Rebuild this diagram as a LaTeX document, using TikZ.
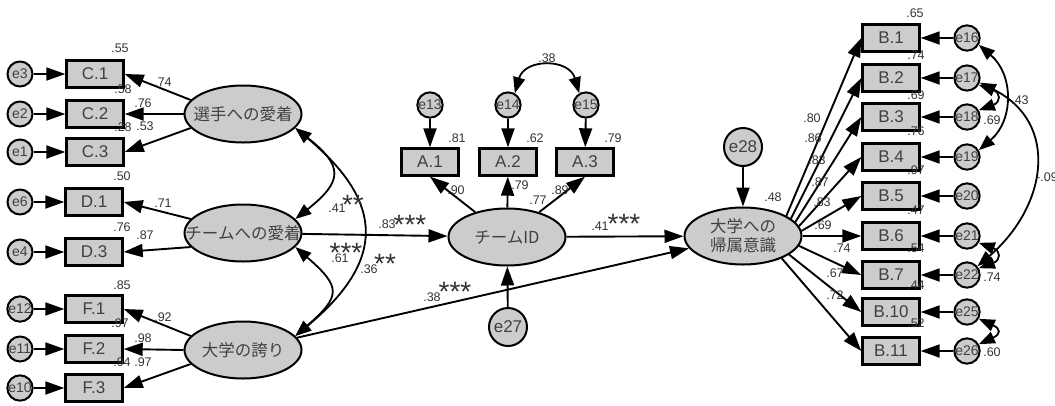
\documentclass[tikz,border=0pt]{standalone}
\usepackage{fontspec}
\setmainfont{Liberation Sans}
\newfontfamily\jpfont{Noto Sans CJK JP}
\usetikzlibrary{shapes.geometric,arrows.meta}
\tikzset{
  obs/.style={draw, line width=2.4pt, fill=gray!40, minimum width=57pt, minimum height=27pt, inner sep=0pt, text=black!75, font=\fontsize{17}{17}\selectfont},
  err/.style={circle, draw, line width=2pt, fill=gray!40, minimum size=25pt, inner sep=0pt, text=black!75, font=\fontsize{14}{14}\selectfont},
  bigerr/.style={err, minimum size=38pt, font=\fontsize{17}{17}\selectfont},
  lat/.style={ellipse, draw, line width=2pt, fill=gray!40, minimum width=117pt, minimum height=57pt, inner xsep=-25pt, inner ysep=0pt, text=black!75, font=\jpfont\fontsize{16.5}{19}\selectfont, align=center},
  arr/.style={-{Triangle[length=19pt,width=13pt]}, line width=1.9pt},
  cov/.style={{Triangle[length=16pt,width=12pt]}-{Triangle[length=16pt,width=12pt]}, line width=1.8pt},
  num/.style={inner sep=0pt, text=black!80, font=\fontsize{12.5}{12.5}\selectfont},
  sig/.style={inner sep=0pt, anchor=base, text=black!80, font=\fontsize{28}{28}\selectfont}
}
\begin{document}
\begin{tikzpicture}[x=1pt,y=-1pt]
    \useasboundingbox (0,0) rectangle (1055,405);
    % latent variables
    \node[lat] (sensyu) at (243,114) {選手への愛着};
    \node[lat] (chaku) at (243,233) {チームへの愛着};
    \node[lat] (hokori) at (243,350) {大学の誇り};
    \node[lat] (teamid) at (507,237) {チームID};
    \node[lat] (kizoku) at (743,236) {大学への\\帰属意識};
    % observed variables, left
    \node[obs] (c1) at (95,74) {C.1};
    \node[obs] (c2) at (95,114) {C.2};
    \node[obs] (c3) at (95,152) {C.3};
    \node[obs] (d1) at (94,202) {D.1};
    \node[obs] (d3) at (94,252) {D.3};
    \node[obs] (f1) at (94,309) {F.1};
    \node[obs] (f2) at (94,349) {F.2};
    \node[obs] (f3) at (94,388) {F.3};
    \node[err] (e3) at (20,74) {e3};
    \node[err] (e2) at (20,114) {e2};
    \node[err] (e1) at (20,152) {e1};
    \node[err] (e6) at (20,202) {e6};
    \node[err] (e4) at (20,252) {e4};
    \node[err] (e12) at (20,309) {e12};
    \node[err] (e11) at (20,349) {e11};
    \node[err] (e10) at (20,388) {e10};
    % observed variables, middle
    \node[obs] (a1) at (430,162) {A.1};
    \node[obs] (a2) at (508,162) {A.2};
    \node[obs] (a3) at (585,162) {A.3};
    \node[err] (e13) at (430,105) {e13};
    \node[err] (e14) at (508,105) {e14};
    \node[err] (e15) at (586,105) {e15};
    \node[bigerr] (e27) at (508,327) {e27};
    \node[bigerr] (e28) at (743,147) {e28};
    % observed variables, right
    \node[obs] (b1) at (891,38) {B.1};
    \node[obs] (b2) at (891,78) {B.2};
    \node[obs] (b3) at (891,117) {B.3};
    \node[obs] (b4) at (891,157) {B.4};
    \node[obs] (b5) at (891,196) {B.5};
    \node[obs] (b6) at (891,236) {B.6};
    \node[obs] (b7) at (891,275) {B.7};
    \node[obs] (b10) at (891,312) {B.10};
    \node[obs] (b11) at (891,351) {B.11};
    \node[err] (e16) at (967,38) {e16};
    \node[err] (e17) at (967,78) {e17};
    \node[err] (e18) at (967,117) {e18};
    \node[err] (e19) at (967,157) {e19};
    \node[err] (e20) at (967,196) {e20};
    \node[err] (e21) at (967,236) {e21};
    \node[err] (e22) at (967,275) {e22};
    \node[err] (e25) at (967,312) {e25};
    \node[err] (e26) at (967,351) {e26};
    % paths
    \draw[arr] (e3) -- (c1);
    \draw[arr] (e2) -- (c2);
    \draw[arr] (e1) -- (c3);
    \draw[arr] (e6) -- (d1);
    \draw[arr] (e4) -- (d3);
    \draw[arr] (e12) -- (f1);
    \draw[arr] (e11) -- (f2);
    \draw[arr] (e10) -- (f3);
    \draw[arr] (sensyu.165) -- (c1.east);
    \draw[arr] (sensyu.west) -- (c2.east);
    \draw[arr] (sensyu.195) -- (c3.east);
    \draw[arr] (chaku.165) -- (d1.east);
    \draw[arr] (chaku.195) -- (d3.east);
    \draw[arr] (hokori.165) -- (f1.east);
    \draw[arr] (hokori.west) -- (f2.east);
    \draw[arr] (hokori.195) -- (f3.east);
    \draw[arr] (e13) -- (a1);
    \draw[arr] (e14) -- (a2);
    \draw[arr] (e15) -- (a3);
    \draw[arr] (teamid) -- (a1.south);
    \draw[arr] (teamid) -- (a2);
    \draw[arr] (teamid) -- (a3.south);
    \draw[arr] (chaku) -- (teamid);
    \draw[arr] (teamid) -- (kizoku);
    \draw[arr] (hokori) -- (kizoku);
    \draw[arr] (e27) -- (teamid);
    \draw[arr] (e28) -- (kizoku);
    \draw[arr] (kizoku.25) -- (b1.west);
    \draw[arr] (kizoku.20) -- (b2.west);
    \draw[arr] (kizoku.15) -- (b3.west);
    \draw[arr] (kizoku.10) -- (b4.west);
    \draw[arr] (kizoku.5) -- (b5.west);
    \draw[arr] (kizoku.east) -- (b6.west);
    \draw[arr] (kizoku.-10) -- (b7.west);
    \draw[arr] (kizoku.-22) -- (b10.west);
    \draw[arr] (kizoku.-30) -- (b11.west);
    \draw[arr] (e16) -- (b1);
    \draw[arr] (e17) -- (b2);
    \draw[arr] (e18) -- (b3);
    \draw[arr] (e19) -- (b4);
    \draw[arr] (e20) -- (b5);
    \draw[arr] (e21) -- (b6);
    \draw[arr] (e22) -- (b7);
    \draw[arr] (e25) -- (b10);
    \draw[arr] (e26) -- (b11);
    % covariances
    \draw[cov] (sensyu.-15) .. controls +(48,38) and +(48,-38) .. (chaku.15);
    \draw[cov] (sensyu.-15) .. controls +(90,75) and +(90,-75) .. (hokori.15);
    \draw[cov] (chaku.-15) .. controls +(46,40) and +(46,-40) .. (hokori.15);
    \draw[cov] (e14.60) .. controls +(10,-35) and +(-10,-35) .. (e15.120);
    \draw[cov] (e16.-30) .. controls +(35,30) and +(35,-30) .. (e19.30);
    \draw[cov] (e17.-30) .. controls +(22,8) and +(22,-8) .. (e18.30);
    \draw[cov] (e17.-20) .. controls +(80,40) and +(70,-60) .. (e22.40);
    \draw[cov] (e21.-30) .. controls +(22,8) and +(22,-8) .. (e22.30);
    \draw[cov] (e25.-30) .. controls +(22,10) and +(22,-10) .. (e26.30);
    % estimates, left
    \node[num] (r2c1) at (120,48) {.55};
    \node[num] (r2c2) at (123,89) {.58};
    \node[num] (r2c3) at (123,127) {.28};
    \node[num] (r2d1) at (122,176) {.50};
    \node[num] (r2d3) at (122,227) {.76};
    \node[num] (r2f1) at (122,285) {.85};
    \node[num] (r2f2) at (120,323) {.97};
    \node[num] (r2f3) at (122,362) {.94};
    \node[num] (lc1) at (163,82) {.74};
    \node[num] (lc2) at (143,103) {.76};
    \node[num] (lc3) at (145,126) {.53};
    \node[num] (ld1) at (163,203) {.71};
    \node[num] (ld3) at (145,235) {.87};
    \node[num] (lf1) at (163,317) {.92};
    \node[num] (lf2) at (143,338) {.98};
    \node[num] (lf3) at (143,362) {.97};
    \node[num] (csc) at (337,208) {.41};
    \node[sig] (ssc) at (353,214) {**};
    \node[num] (cch) at (340,258) {.61};
    \node[sig] (sch) at (346,262) {***};
    \node[num] (csh) at (369,269) {.36};
    \node[sig] (ssh) at (385,273) {**};
    % estimates, middle
    \node[num] (pci) at (387,224) {.83};
    \node[sig] (sci) at (410,234) {***};
    \node[num] (phk) at (432,297) {.38};
    \node[sig] (shk) at (455,301) {***};
    \node[num] (pik) at (600,226) {.41};
    \node[sig] (sik) at (624,233) {***};
    \node[num] (c1415) at (547,58) {.38};
    \node[num] (r2a1) at (457,138) {.81};
    \node[num] (r2a2) at (535,138) {.62};
    \node[num] (r2a3) at (613,138) {.79};
    \node[num] (la1) at (456,190) {.90};
    \node[num] (la2) at (520,185) {.79};
    \node[num] (la3) at (560,190) {.89};
    \node[num] (r2id) at (538,200) {.77};
    \node[num] (r2kz) at (773,197) {.48};
    % estimates, right
    \node[num] (r2b1) at (915,13) {.65};
    \node[num] (r2b2) at (916,55) {.74};
    \node[num] (r2b3) at (916,95) {.69};
    \node[num] (r2b4) at (916,131) {.76};
    \node[num] (r2b5) at (916,170) {.97};
    \node[num] (r2b6) at (916,210) {.47};
    \node[num] (r2b7) at (916,248) {.54};
    \node[num] (r2b10) at (916,285) {.44};
    \node[num] (r2b11) at (916,323) {.52};
    \node[num] (lb1) at (812,118) {.80};
    \node[num] (lb2) at (813,138) {.86};
    \node[num] (lb3) at (817,160) {.83};
    \node[num] (lb4) at (820,182) {.87};
    \node[num] (lb5) at (822,202) {.83};
    \node[num] (lb6) at (823,225) {.69};
    \node[num] (lb7) at (842,248) {.74};
    \node[num] (lb10) at (835,273) {.67};
    \node[num] (lb11) at (835,295) {.72};
    \node[num] (c1619) at (1020,100) {.43};
    \node[num] (c1718) at (992,120) {.69};
    \node[num, anchor=west] (c1722) at (1036,177) {-.09};
    \node[num] (c2122) at (992,277) {.74};
    \node[num] (c2526) at (992,352) {.60};
\end{tikzpicture}
\end{document}
